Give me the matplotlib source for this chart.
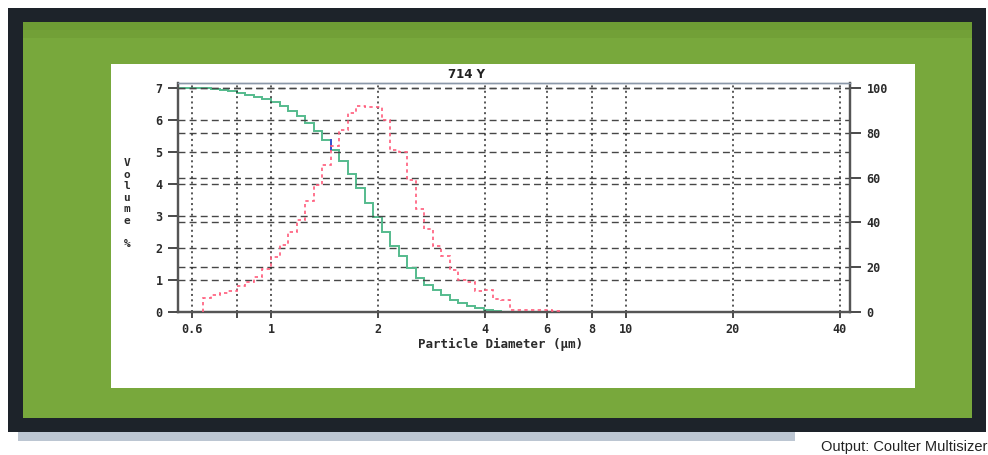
import matplotlib
matplotlib.use('Agg')
import matplotlib.pyplot as plt
from matplotlib.patches import Rectangle
from matplotlib.ticker import NullLocator

# ---------------- data ----------------
# channel edges (µm), log-spaced Coulter channels
diam_edges = [0.5445, 0.5754, 0.6081, 0.6427, 0.6792, 0.7178, 0.7586, 0.8017,
              0.8472, 0.8954, 0.9462, 1.0000, 1.0568, 1.1169, 1.1803, 1.2474,
              1.3183, 1.3932, 1.4723, 1.5560, 1.6444, 1.7378, 1.8365, 1.9409,
              2.0512, 2.1677, 2.2909, 2.4210, 2.5586, 2.7040, 2.8576, 3.0200,
              3.1915, 3.3729, 3.5645, 3.7670, 3.9811, 4.2073, 4.4463, 4.6989,
              4.9659, 5.2481, 5.5463, 5.8614, 6.1944, 6.5464]
# differential volume % (left axis), channels from 0.6427 µm upward
volume_pct = [0.45, 0.52, 0.58, 0.66, 0.80, 0.93, 1.10, 1.35,
              1.72, 2.10, 2.50, 2.87, 3.48, 3.97, 4.60, 5.20, 5.68, 6.22,
              6.45, 6.42, 6.42, 6.00, 5.05, 5.00, 4.13, 3.22, 2.60, 2.05,
              1.75, 1.30, 1.00, 0.95, 0.66, 0.70, 0.42, 0.38, 0.07, 0.05,
              0.05, 0.06, 0.07, 0.04]
# cumulative volume % greater than (right axis), all channels
cum_pct = [100, 100, 100, 100, 99.6, 99.1, 98.5, 97.8, 97.0, 96.1, 95.0,
           93.6, 91.9, 89.8, 87.3, 84.4, 80.9, 77.0, 72.4, 67.2, 61.5,
           55.3, 48.8, 42.5, 35.9, 29.5, 24.8, 19.7, 15.2, 12.2, 9.8,
           7.6, 5.5, 3.9, 2.7, 1.7, 0.9, 0.4, 0.2, 0.1, 0.0,
           0.0, 0.0, 0.0, 0.0]
x_ticks = [0.6, 0.8, 1, 2, 4, 6, 8, 10, 20, 40]
x_labels = ['0.6', '', '1', '2', '4', '6', '8', '10', '20', '40']
left_ticks = [0, 1, 2, 3, 4, 5, 6, 7]
right_ticks = [0, 20, 40, 60, 80, 100]
title = '714 Y'
xlabel = 'Particle Diameter (\u00b5m)'
ylabel = 'V\no\nl\nu\nm\ne\n\n%'
footer = 'Output: Coulter Multisizer'

# ---------------- figure ----------------
W, H = 988, 455
plt.rcParams['font.family'] = ['DejaVu Sans Mono']
plt.rcParams['font.weight'] = 'bold'
fig = plt.figure(figsize=(W / 100, H / 100), dpi=100)
fig.patch.set_facecolor('white')


def box(x0, y0, x1, y1, color, z=-5):
    r = Rectangle((x0 / W, 1 - y1 / H), (x1 - x0) / W, (y1 - y0) / H,
                  transform=fig.transFigure, facecolor=color,
                  edgecolor='none', zorder=z)
    fig.add_artist(r)


box(8, 8, 986, 432, '#1d232a')        # dark frame
box(18, 432, 795, 441, '#bcc6d2')     # shadow strip
box(23, 22, 972, 418, '#78a83c')      # green mat
# slightly darker top of the mat
box(23, 22, 972, 30, '#6d9b34', -4.9)
box(23, 30, 972, 38, '#72a037', -4.8)
box(111, 64, 915, 388, '#ffffff', -4.5)  # white panel

ax = fig.add_axes([178 / W, 1 - 312 / H, (850 - 178) / W, (312 - 83) / H])
ax2 = ax.twinx()
ax.set_zorder(ax2.get_zorder() + 1)
ax.patch.set_visible(False)
ax2.patch.set_visible(False)

ax.set_xscale('log')
ax.set_xlim(0.547, 42.75)
ax.set_ylim(0, 7.156)
ax2.set_ylim(0, 102.23)

# curves
ax.stairs(volume_pct, diam_edges[3:], baseline=0, color='#ff5c7c',
          lw=1.2, ls=(0, (2, 2)), zorder=3)
ax2.stairs(cum_pct, diam_edges, baseline=None, color='#55bb8d', lw=1.4,
           zorder=3)
ax2.plot([diam_edges[18], diam_edges[18]], [cum_pct[17], cum_pct[18]],
         color='#3550d0', lw=1.4, zorder=4)

# ticks
ax.set_xticks(x_ticks)
ax.set_xticklabels(x_labels)
ax.xaxis.set_minor_locator(NullLocator())
ax2.xaxis.set_minor_locator(NullLocator())
ax.set_yticks(left_ticks)
ax2.set_yticks(right_ticks)

tc = '#2b2b2b'
ax.tick_params(axis='x', direction='out', length=4, width=1.2, pad=4,
               labelsize=8.5, colors=tc)
ax.tick_params(axis='y', direction='out', length=7, width=1.2, pad=4,
               labelsize=8.5, colors=tc)
ax2.tick_params(axis='y', direction='out', length=8, width=1.2, pad=4,
                labelsize=8.5, colors=tc)

# grids
ax.grid(True, axis='x', color='#2a2a2a', lw=1.1, ls=(0, (1.3, 2.2)))
ax.grid(True, axis='y', color='#474747', lw=1.0, ls=(0, (5, 3)))
ax2.grid(True, axis='y', color='#474747', lw=1.0, ls=(0, (5, 3)))
ax.set_axisbelow(True)

for a in (ax, ax2):
    for s in ('left', 'bottom', 'right'):
        a.spines[s].set_color('#555555')
        a.spines[s].set_linewidth(1.6)
    a.spines['top'].set_color('#8a97a8')
    a.spines['top'].set_linewidth(1.0)

# texts
fig.text(466 / W, 1 - 75 / H, title, ha='center', va='center',
         fontsize=8.5, family='DejaVu Sans', weight='bold', color='#222222')
fig.text(500 / W, 1 - 344 / H, xlabel, ha='center', va='center',
         fontsize=9, color=tc)
fig.text(127 / W, 1 - 203.5 / H, ylabel, ha='center', va='center',
         fontsize=8, linespacing=1.2, color=tc)
fig.text(987 / W, 1 - 447 / H, footer, ha='right', va='center',
         fontsize=10.5, weight='normal',
         family=['Liberation Sans Narrow', 'Liberation Sans', 'DejaVu Sans'],
         color='#222222')

fig.savefig('out.png', dpi=100)
